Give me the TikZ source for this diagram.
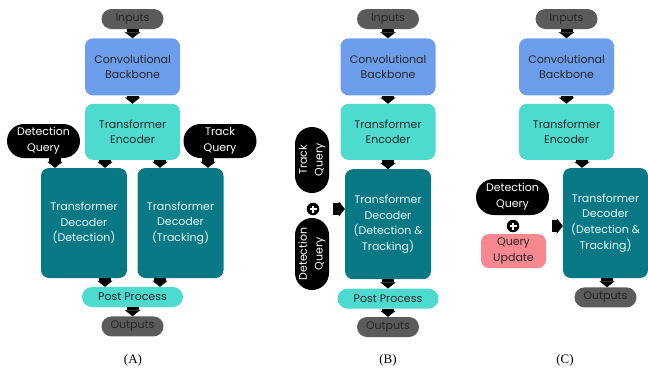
\documentclass[tikz,border=0pt]{standalone}
\usepackage{fontspec}
\setmainfont{Poppins}
\newfontfamily\capfont{Liberation Serif}
\usetikzlibrary{positioning,arrows.meta}
\definecolor{ingray}{HTML}{5B5B5B}
\definecolor{convblue}{HTML}{6D9EEB}
\definecolor{enccyan}{HTML}{4DDBD0}
\definecolor{decteal}{HTML}{087885}
\definecolor{updpink}{HTML}{F8888F}

\begin{document}
\begin{tikzpicture}[x=1pt,y=-1pt,
every node/.style={font=\fontsize{11}{15.7}\selectfont, align=center, inner sep=0pt},
pillnode/.style={rectangle, fill=ingray, text=black!85, rounded corners=10pt, minimum width=62pt, minimum height=20pt},
convnode/.style={rectangle, fill=convblue, text=black!85, rounded corners=8pt, minimum width=95pt, minimum height=57pt},
encnode/.style={rectangle, fill=enccyan, text=black!85, rounded corners=8pt, minimum width=95pt, minimum height=56pt},
decnode/.style={rectangle, fill=decteal, text=white!92!cyan, rounded corners=8pt, minimum width=86pt, minimum height=110pt},
postnode/.style={rectangle, fill=enccyan, text=black!85, rounded corners=10pt, minimum width=101pt, minimum height=20pt},
querynode/.style={rectangle, fill=black, text=white, rounded corners=17pt, minimum width=73pt, minimum height=34pt},
updnode/.style={rectangle, fill=updpink, text=black!85, rounded corners=8pt, minimum width=65pt, minimum height=34pt},
plusnode/.style={circle, fill=black, minimum size=12.5pt, path picture={
  \draw[white, line width=1.8pt] ([xshift=-3.5pt]path picture bounding box.center) -- ([xshift=3.5pt]path picture bounding box.center);
  \draw[white, line width=1.8pt] ([yshift=-3.5pt]path picture bounding box.center) -- ([yshift=3.5pt]path picture bounding box.center);}},
capnode/.style={font=\capfont\fontsize{13}{15}\selectfont},
blkarrow/.style={line width=12pt, -{Triangle[width=15pt,length=6pt,line width=0.1pt]}},
]
\useasboundingbox (0,0) rectangle (648,373);
%Nodes
%%% Panel A
\node[pillnode]   (inA)     at (132.5,19) {Inputs};
\node[convnode]   (convA)   [below=9pt of inA] {Convolutional\\Backbone};
\node[encnode]    (encA)    [below=8pt of convA] {Transformer\\Encoder};
\node[querynode]  (detqA)   at (43.5,141) {Detection\\Query};
\node[querynode]  (trkqA)   at (220,141) {Track\\Query};
\node[decnode]    (decdetA) at (84,223) {Transformer\\Decoder\\(Detection)};
\node[decnode]    (dectrkA) at (180.5,223) {Transformer\\Decoder\\(Tracking)};
\node[postnode]   (postA)   at (132.5,297) {Post Process};
\node[pillnode]   (outA)    [below=9pt of postA] {Outputs};
\node[capnode]    (capA)    at (133,360) {(A)};

%%% Panel B
\node[pillnode]   (inB)     at (388,19) {Inputs};
\node[convnode]   (convB)   [below=9pt of inB] {Convolutional\\Backbone};
\node[encnode]    (encB)    [below=8pt of convB] {Transformer\\Encoder};
\node[decnode]    (decB)    [below=9pt of encB] {Transformer\\Decoder\\(Detection \&\\Tracking)};
\node[querynode, rotate=90, minimum width=66pt]  (trkqB) at (312,160) {Track\\Query};
\node[plusnode]   (plusB)   at (313,209) {};
\node[querynode, rotate=90, minimum width=72pt]  (detqB) at (312,254) {Detection\\Query};
\node[postnode]   (postB)   [below=9pt of decB] {Post Process};
\node[pillnode]   (outB)    [below=8pt of postB] {Outputs};
\node[capnode]    (capB)    at (388,360) {(B)};

%%% Panel C
\node[pillnode]   (inC)     at (566.5,19) {Inputs};
\node[convnode]   (convC)   [below=9pt of inC] {Convolutional\\Backbone};
\node[encnode]    (encC)    [below=8pt of convC] {Transformer\\Encoder};
\node[decnode, minimum width=85pt] (decC) at (605.5,223) {Transformer\\Decoder\\(Detection \&\\Tracking)};
\node[querynode, rounded corners=18pt, minimum height=36pt] (detqC) at (512.5,197) {Detection\\Query};
\node[plusnode]   (plusC)   at (513,226) {};
\node[updnode]    (updC)    at (513.5,251) {Query\\Update};
\node[pillnode]   (outC)    [below=9pt of decC] {Outputs};
\node[capnode]    (capC)    at (565,360) {(C)};

%Lines
%%% Panel A
\draw[blkarrow] (inA) -- (convA);
\draw[blkarrow] (convA) -- (encA);
\draw[blkarrow] ([xshift=11.5pt]detqA.south) -- ([xshift=11.5pt]detqA.south |- decdetA.north);
\draw[blkarrow] ([xshift=-27.5pt]encA.south) -- ([xshift=-27.5pt]encA.south |- decdetA.north);
\draw[blkarrow] ([xshift=27.5pt]encA.south) -- ([xshift=27.5pt]encA.south |- dectrkA.north);
\draw[blkarrow] ([xshift=-12pt]trkqA.south) -- ([xshift=-12pt]trkqA.south |- dectrkA.north);
\draw[blkarrow] ([xshift=-27.5pt]postA.north |- decdetA.south) -- ([xshift=-27.5pt]postA.north);
\draw[blkarrow] ([xshift=27.5pt]postA.north |- dectrkA.south) -- ([xshift=27.5pt]postA.north);
\draw[blkarrow] (postA) -- (outA);

%%% Panel B
\draw[blkarrow] (inB) -- (convB);
\draw[blkarrow] (convB) -- (encB);
\draw[blkarrow] (encB) -- (decB);
\draw[blkarrow] ([xshift=20pt]plusB.center) -- (plusB -| decB.west);
\draw[blkarrow] (decB) -- (postB);
\draw[blkarrow] (postB) -- (outB);

%%% Panel C
\draw[blkarrow] (inC) -- (convC);
\draw[blkarrow] (convC) -- (encC);
\draw[blkarrow] ([xshift=15.5pt]encC.south) -- ([xshift=15.5pt]encC.south |- decC.north);
\draw[blkarrow] ([xshift=39pt]plusC.center) -- (plusC -| decC.west);
\draw[blkarrow] ([xshift=1.5pt]decC.south) -- ([xshift=1.5pt]outC.north);

\end{tikzpicture}
\end{document}
